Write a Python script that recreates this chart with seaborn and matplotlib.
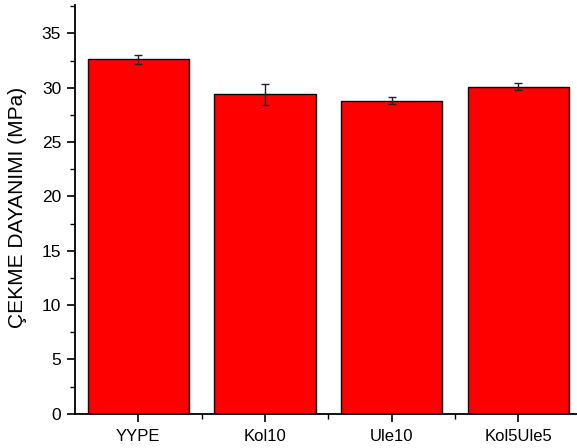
import matplotlib
matplotlib.use("Agg")
import matplotlib.pyplot as plt
from matplotlib.ticker import MultipleLocator, FixedLocator
import seaborn as sns
import pandas as pd

# Tensile strength of the samples (mean and standard deviation)
samples = ["YYPE", "Kol10", "Ule10", "Kol5Ule5"]
strength = [32.6, 29.4, 28.8, 30.1]
strength_sd = [0.45, 0.97, 0.31, 0.33]
y_ticks = [0, 5, 10, 15, 20, 25, 30, 35]

sns.set_theme(style="ticks")
plt.rcParams["font.family"] = ["Liberation Sans", "DejaVu Sans"]

df = pd.DataFrame({"sample": samples, "strength": strength})

fig = plt.figure(figsize=(5.77, 4.48), dpi=100)
ax = fig.add_axes([0.130, 0.0766, 0.878, 0.912])

sns.barplot(data=df, x="sample", y="strength", color="#ff0000",
            saturation=1, edgecolor="black", linewidth=1.0,
            errorbar=None, width=0.8, ax=ax)
for p in ax.patches:
    p.set_facecolor("#ff0000")

ax.errorbar(range(len(samples)), strength, yerr=strength_sd, fmt="none",
            ecolor="#222222", elinewidth=1.0, capsize=2.9, capthick=1.0,
            zorder=5)

ax.set_xlim(-0.5, 3.5)
ax.set_ylim(0, 37.6)
ax.set_yticks(y_ticks)
ax.yaxis.set_minor_locator(MultipleLocator(2.5))
ax.xaxis.set_minor_locator(FixedLocator([0.5, 1.5, 2.5]))

sns.despine(ax=ax, top=True, right=True)
for s in ("left", "bottom"):
    ax.spines[s].set_color("black")
    ax.spines[s].set_linewidth(1.3)

ax.tick_params(axis="both", which="major", direction="out", length=6,
               width=1.2, color="black", labelsize=12.5, pad=4,
               labelcolor="black")
ax.tick_params(axis="both", which="minor", direction="out", length=3.5,
               width=1.0, color="black")
ax.tick_params(axis="x", which="major", labelsize=12, pad=5)

ax.set_xlabel("")
ax.set_ylabel("ÇEKME DAYANIMI (MPa)", fontsize=15, color="black")
ax.yaxis.set_label_coords(-0.095, 0.505)

fig.savefig("out.png", dpi=100)
